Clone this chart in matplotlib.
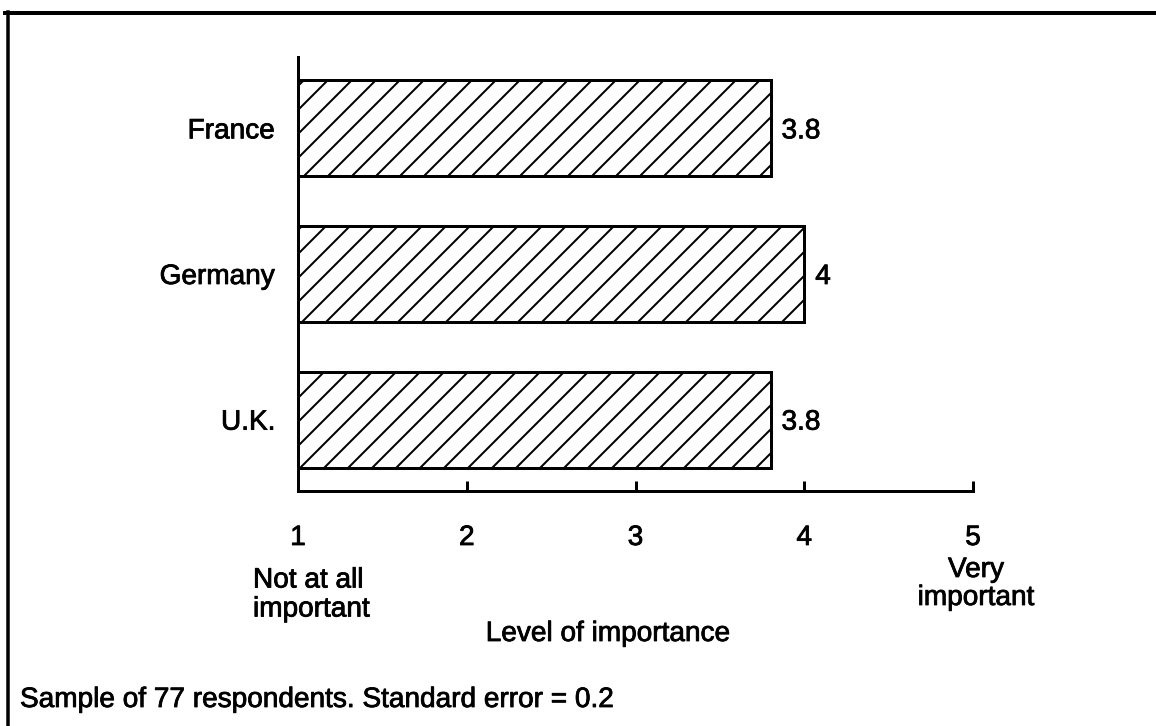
import numpy as np
import matplotlib
matplotlib.use("Agg")
import matplotlib.pyplot as plt
from matplotlib.lines import Line2D
import matplotlib.patheffects as pe

# -----------------------------------------------------
# Data
# -----------------------------------------------------
countries = ["France", "Germany", "U.K."]
scores = [3.8, 4.0, 3.8]
score_labels = ["3.8", "4", "3.8"]
x_ticks = [1, 2, 3, 4, 5]
x_ticklabels = ["1", "2", "3", "4", "5"]
low_label = "Not at all\nimportant"
high_label = "Very\nimportant"
x_title = "Level of importance"
footnote = "Sample of 77 respondents. Standard error = 0.2"

W, H, DPI = 1156, 726, 144
plt.rcParams["font.family"] = ["Liberation Sans", "DejaVu Sans"]
plt.rcParams["hatch.linewidth"] = 1.0
FS = 14
# the scanned type is a little heavier than a clean render
thick = [pe.withStroke(linewidth=0.4, foreground="black")]


def fx(px):
    return px / W


def fy(py):
    return 1 - py / H


fig = plt.figure(figsize=(W / DPI, H / DPI), dpi=DPI)
fig.patch.set_facecolor("white")

# axes box: x=1 at px 298, x=5 at px 973, y axis from px 57 to 491
ax = fig.add_axes([fx(298), fy(491), (973 - 298) / W, (491 - 57) / H])

ypos = np.arange(len(countries))
widths = [s - 1 for s in scores]
ax.barh(ypos, widths, left=1, height=0.66, color="white",
        edgecolor="black", hatch="//", linewidth=1.5)

for i, (s, lab) in enumerate(zip(scores, score_labels)):
    ax.annotate(lab, xy=(s, i), xytext=(5.5, -1.5), textcoords="offset points",
                ha="left", va="center", fontsize=FS, path_effects=thick)

ax.set_xlim(1, 5)
ax.set_ylim(2.49, -0.49)
ax.set_xticks(x_ticks)
ax.set_xticklabels(x_ticklabels)
ax.set_yticks(ypos)
ax.set_yticklabels(countries)

for side in ["top", "right"]:
    ax.spines[side].set_visible(False)
for side in ["left", "bottom"]:
    ax.spines[side].set_linewidth(1.5)

ax.tick_params(axis="x", direction="in", length=5, width=1.5, pad=17,
               labelsize=FS)
ax.tick_params(axis="y", length=0, pad=11.5, labelsize=FS)
for t in ax.get_xticklabels() + ax.get_yticklabels():
    t.set_path_effects(thick)

# scale end labels and axis title
fig.text(fx(253), fy(595), low_label, ha="left", va="center", fontsize=FS,
         linespacing=1.15, path_effects=thick)
fig.text(fx(976), fy(584), high_label, ha="center", va="center", fontsize=FS,
         multialignment="center", linespacing=1.1, path_effects=thick)
fig.text(fx(608), fy(634), x_title, ha="center", va="center", fontsize=FS,
         path_effects=thick)
fig.text(fx(20), fy(700), footnote, ha="left", va="center", fontsize=FS,
         path_effects=thick)

# frame around the figure (top and left edges visible in the scan)
fig.add_artist(Line2D([fx(5), fx(1156)], [fy(13), fy(13)], color="black",
                      linewidth=2.0, transform=fig.transFigure))
fig.add_artist(Line2D([fx(8), fx(8)], [fy(12), fy(726)], color="black",
                      linewidth=1.75, transform=fig.transFigure))

fig.savefig("out.png", dpi=DPI)
